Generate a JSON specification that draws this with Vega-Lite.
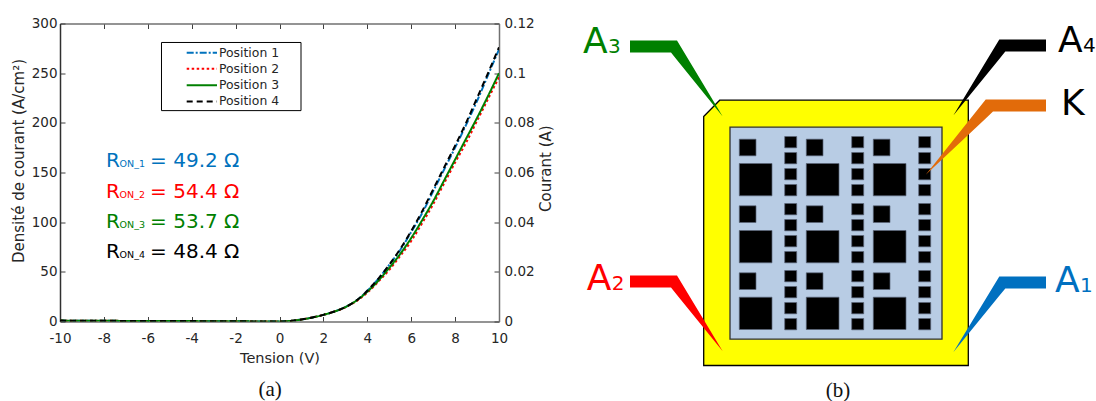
{
"$schema":"https://vega.github.io/schema/vega-lite/v6.json",
"background":"white",
"padding":{"left":11,"top":16.5,"right":0,"bottom":0},
"bounds":"flush",
"spacing":71,
"resolve":{"scale":{"color":"independent"}},
"config":{"view":{"stroke":null},"font":"DejaVu Sans","text":{"font":"DejaVu Sans"}},
"datasets":{
"curves":[
{"t":-10,"p":"Position 1","j":0.9},{"t":-8,"p":"Position 1","j":0.7},{"t":-6,"p":"Position 1","j":0.5},{"t":-4,"p":"Position 1","j":0.4},{"t":-2,"p":"Position 1","j":0.2},{"t":0,"p":"Position 1","j":0},{"t":0.5,"p":"Position 1","j":0.6},{"t":1,"p":"Position 1","j":2},{"t":1.5,"p":"Position 1","j":4},{"t":2,"p":"Position 1","j":6.7},{"t":2.5,"p":"Position 1","j":10},{"t":3,"p":"Position 1","j":14.5},{"t":3.5,"p":"Position 1","j":21},{"t":4,"p":"Position 1","j":31},{"t":4.5,"p":"Position 1","j":43},{"t":5,"p":"Position 1","j":57},{"t":5.5,"p":"Position 1","j":72},{"t":6,"p":"Position 1","j":90},{"t":6.5,"p":"Position 1","j":109},{"t":7,"p":"Position 1","j":131},{"t":7.5,"p":"Position 1","j":153},{"t":8,"p":"Position 1","j":175},{"t":8.5,"p":"Position 1","j":198},{"t":9,"p":"Position 1","j":222},{"t":9.5,"p":"Position 1","j":248},{"t":10,"p":"Position 1","j":274},
{"t":-10,"p":"Position 2","j":0.9},{"t":-8,"p":"Position 2","j":0.7},{"t":-6,"p":"Position 2","j":0.5},{"t":-4,"p":"Position 2","j":0.4},{"t":-2,"p":"Position 2","j":0.2},{"t":0,"p":"Position 2","j":0},{"t":0.5,"p":"Position 2","j":0.6},{"t":1,"p":"Position 2","j":2},{"t":1.5,"p":"Position 2","j":4},{"t":2,"p":"Position 2","j":6.7},{"t":2.5,"p":"Position 2","j":10},{"t":3,"p":"Position 2","j":14.3},{"t":3.5,"p":"Position 2","j":20.5},{"t":4,"p":"Position 2","j":29},{"t":4.5,"p":"Position 2","j":40},{"t":5,"p":"Position 2","j":52},{"t":5.5,"p":"Position 2","j":66},{"t":6,"p":"Position 2","j":81},{"t":6.5,"p":"Position 2","j":99},{"t":7,"p":"Position 2","j":118},{"t":7.5,"p":"Position 2","j":139},{"t":8,"p":"Position 2","j":160},{"t":8.5,"p":"Position 2","j":180},{"t":9,"p":"Position 2","j":202},{"t":9.5,"p":"Position 2","j":224},{"t":10,"p":"Position 2","j":246},
{"t":-10,"p":"Position 3","j":0.9},{"t":-8,"p":"Position 3","j":0.7},{"t":-6,"p":"Position 3","j":0.5},{"t":-4,"p":"Position 3","j":0.4},{"t":-2,"p":"Position 3","j":0.2},{"t":0,"p":"Position 3","j":0},{"t":0.5,"p":"Position 3","j":0.6},{"t":1,"p":"Position 3","j":2},{"t":1.5,"p":"Position 3","j":4},{"t":2,"p":"Position 3","j":6.7},{"t":2.5,"p":"Position 3","j":10},{"t":3,"p":"Position 3","j":14.5},{"t":3.5,"p":"Position 3","j":21},{"t":4,"p":"Position 3","j":30},{"t":4.5,"p":"Position 3","j":41},{"t":5,"p":"Position 3","j":54},{"t":5.5,"p":"Position 3","j":68},{"t":6,"p":"Position 3","j":84},{"t":6.5,"p":"Position 3","j":102},{"t":7,"p":"Position 3","j":121},{"t":7.5,"p":"Position 3","j":142},{"t":8,"p":"Position 3","j":163},{"t":8.5,"p":"Position 3","j":184},{"t":9,"p":"Position 3","j":205},{"t":9.5,"p":"Position 3","j":227},{"t":10,"p":"Position 3","j":250},
{"t":-10,"p":"Position 4","j":0.9},{"t":-8,"p":"Position 4","j":0.7},{"t":-6,"p":"Position 4","j":0.5},{"t":-4,"p":"Position 4","j":0.4},{"t":-2,"p":"Position 4","j":0.2},{"t":0,"p":"Position 4","j":0},{"t":0.5,"p":"Position 4","j":0.6},{"t":1,"p":"Position 4","j":2},{"t":1.5,"p":"Position 4","j":4},{"t":2,"p":"Position 4","j":6.7},{"t":2.5,"p":"Position 4","j":10},{"t":3,"p":"Position 4","j":14.5},{"t":3.5,"p":"Position 4","j":21},{"t":4,"p":"Position 4","j":31},{"t":4.5,"p":"Position 4","j":43},{"t":5,"p":"Position 4","j":57},{"t":5.5,"p":"Position 4","j":73},{"t":6,"p":"Position 4","j":91},{"t":6.5,"p":"Position 4","j":111},{"t":7,"p":"Position 4","j":133},{"t":7.5,"p":"Position 4","j":155},{"t":8,"p":"Position 4","j":177},{"t":8.5,"p":"Position 4","j":200},{"t":9,"p":"Position 4","j":225},{"t":9.5,"p":"Position 4","j":250},{"t":10,"p":"Position 4","j":276}
],
"key":[
{"t":-4.228,"j":270.5,"p":"Position 1"},{"t":-2.847,"j":270.5,"p":"Position 1"},
{"t":-4.228,"j":254.4,"p":"Position 2"},{"t":-2.847,"j":254.4,"p":"Position 2"},
{"t":-4.228,"j":237.9,"p":"Position 3"},{"t":-2.847,"j":237.9,"p":"Position 3"},
{"t":-4.228,"j":221.5,"p":"Position 4"},{"t":-2.847,"j":221.5,"p":"Position 4"}
],
"keylabels":[
{"t":-2.756,"j":270.5,"p":"Position 1"},{"t":-2.756,"j":254.4,"p":"Position 2"},{"t":-2.756,"j":237.9,"p":"Position 3"},{"t":-2.756,"j":221.5,"p":"Position 4"}
],
"ron":[
{"t":-7.9,"j":156,"p":"Position 1","r":"R","s":"ON_1","v":"= 49.2 Ω"},
{"t":-7.9,"j":124.8,"p":"Position 2","r":"R","s":"ON_2","v":"= 54.4 Ω"},
{"t":-7.9,"j":94.6,"p":"Position 3","r":"R","s":"ON_3","v":"= 53.7 Ω"},
{"t":-7.9,"j":64.4,"p":"Position 4","r":"R","s":"ON_4","v":"= 48.4 Ω"}
],
"leaders":[
{"term":"A3","u":-73.7,"top":325,"bot":313},{"term":"A3","u":-32.7,"top":325,"bot":313},{"term":"A3","u":-26.7,"top":325,"bot":305.6},{"term":"A3","u":19,"top":249,"bot":249},
{"term":"A2","u":-73.7,"top":90,"bot":78},{"term":"A2","u":-32.7,"top":90,"bot":78},{"term":"A2","u":-26.7,"top":90,"bot":70.6},{"term":"A2","u":19,"top":14.3,"bot":14.3},
{"term":"A4","u":249.6,"top":250,"bot":250},{"term":"A4","u":295.6,"top":326,"bot":306.6},{"term":"A4","u":301.6,"top":326,"bot":314},{"term":"A4","u":342.3,"top":326,"bot":314},
{"term":"A1","u":249.6,"top":13.3,"bot":13.3},{"term":"A1","u":295.6,"top":89,"bot":69.7},{"term":"A1","u":301.6,"top":89,"bot":77},{"term":"A1","u":342.3,"top":89,"bot":77},
{"term":"K","u":222,"top":190.7,"bot":190.7},{"term":"K","u":282,"top":266,"bot":247.1},{"term":"K","u":289.3,"top":266,"bot":254},{"term":"K","u":342.3,"top":266,"bot":254}
],
"pads":[
{"u":35.6,"u2":52.3,"w":226.3,"w2":209.7},{"u":102.6,"u2":119.3,"w":226.3,"w2":209.7},{"u":169.6,"u2":186.3,"w":226.3,"w2":209.7},
{"u":35.6,"u2":68.3,"w":202,"w2":169.7},{"u":102.6,"u2":135.3,"w":202,"w2":169.7},{"u":169.6,"u2":202.3,"w":202,"w2":169.7},
{"u":35.6,"u2":52.3,"w":159.7,"w2":143},{"u":102.6,"u2":119.3,"w":159.7,"w2":143},{"u":169.6,"u2":186.3,"w":159.7,"w2":143},
{"u":35.6,"u2":68.3,"w":135,"w2":102.7},{"u":102.6,"u2":135.3,"w":135,"w2":102.7},{"u":169.6,"u2":202.3,"w":135,"w2":102.7},
{"u":35.6,"u2":52.3,"w":92.7,"w2":76},{"u":102.6,"u2":119.3,"w":92.7,"w2":76},{"u":169.6,"u2":186.3,"w":92.7,"w2":76},
{"u":35.6,"u2":68.3,"w":68.3,"w2":36},{"u":102.6,"u2":135.3,"w":68.3,"w2":36},{"u":169.6,"u2":202.3,"w":68.3,"w2":36},
{"u":81,"u2":93,"w":229,"w2":217.7},{"u":81,"u2":93,"w":213,"w2":201.7},{"u":81,"u2":93,"w":197,"w2":185.7},{"u":81,"u2":93,"w":181,"w2":169.7},
{"u":81,"u2":93,"w":162,"w2":150.7},{"u":81,"u2":93,"w":146,"w2":134.7},{"u":81,"u2":93,"w":130,"w2":118.7},{"u":81,"u2":93,"w":114,"w2":102.7},
{"u":81,"u2":93,"w":95,"w2":83.7},{"u":81,"u2":93,"w":79,"w2":67.7},{"u":81,"u2":93,"w":63,"w2":51.7},{"u":81,"u2":93,"w":47,"w2":35.7},
{"u":148,"u2":160,"w":229,"w2":217.7},{"u":148,"u2":160,"w":213,"w2":201.7},{"u":148,"u2":160,"w":197,"w2":185.7},{"u":148,"u2":160,"w":181,"w2":169.7},
{"u":148,"u2":160,"w":162,"w2":150.7},{"u":148,"u2":160,"w":146,"w2":134.7},{"u":148,"u2":160,"w":130,"w2":118.7},{"u":148,"u2":160,"w":114,"w2":102.7},
{"u":148,"u2":160,"w":95,"w2":83.7},{"u":148,"u2":160,"w":79,"w2":67.7},{"u":148,"u2":160,"w":63,"w2":51.7},{"u":148,"u2":160,"w":47,"w2":35.7},
{"u":215,"u2":227,"w":229,"w2":217.7},{"u":215,"u2":227,"w":213,"w2":201.7},{"u":215,"u2":227,"w":197,"w2":185.7},{"u":215,"u2":227,"w":181,"w2":169.7},
{"u":215,"u2":227,"w":162,"w2":150.7},{"u":215,"u2":227,"w":146,"w2":134.7},{"u":215,"u2":227,"w":130,"w2":118.7},{"u":215,"u2":227,"w":114,"w2":102.7},
{"u":215,"u2":227,"w":95,"w2":83.7},{"u":215,"u2":227,"w":79,"w2":67.7},{"u":215,"u2":227,"w":63,"w2":51.7},{"u":215,"u2":227,"w":47,"w2":35.7}
],
"labels":[
{"term":"A3","main":"A","sub":"3","u":-120.7,"us":-95.7,"w":313},
{"term":"A2","main":"A","sub":"2","u":-117,"us":-92,"w":76},
{"term":"A4","main":"A","sub":"4","u":354.3,"us":379.3,"w":314},
{"term":"A1","main":"A","sub":"1","u":351.3,"us":376.3,"w":74},
{"term":"A4","main":"K","sub":"","u":357.3,"us":380,"w":250.5}
]
},
"hconcat":[
{
"width":439,"height":298,
"resolve":{"scale":{"y":"independent"},"axis":{"x":"independent"}},
"layer":[
{
"layer":[
{"data":{"values":[{"a":-5.376,"b":0.98,"c":280.9,"d":212.3}]},
 "mark":{"type":"rect","fill":"white","stroke":"black","strokeWidth":1},
 "encoding":{
  "x":{"field":"a","type":"quantitative","scale":{"domain":[-10,10],"nice":false},
   "axis":{"orient":"bottom","values":[-10,-8,-6,-4,-2,0,2,4,6,8,10],"labelExpr":"replace(datum.label,'−','-')","grid":false,"tickSize":-5,"tickColor":"#404040","domainColor":"#707070","domainWidth":1.5,"labelFontSize":13.5,"labelColor":"#262626","labelPadding":15,"labelFlush":false,"title":"Tension (V)","titleFontSize":14.5,"titleFontWeight":"normal","titleColor":"#262626","titlePadding":6}},
  "x2":{"field":"b"},
  "y":{"field":"c","type":"quantitative","scale":{"domain":[0,300],"nice":false},
   "axis":{"orient":"left","values":[0,50,100,150,200,250,300],"grid":false,"tickSize":-5,"tickColor":"#404040","domainColor":"#303030","domainWidth":1.5,"labelFontSize":13.5,"labelColor":"#262626","labelPadding":8,"title":"Densité de courant (A/cm²)","titleFontSize":15,"titleFontWeight":"normal","titleColor":"#262626","titleY":137,"titleX":-33.5}},
  "y2":{"field":"d"}
 }},
{"data":{"name":"curves"},
 "mark":{"type":"line","strokeWidth":2,"clip":true,"interpolate":"monotone"},
 "encoding":{
  "x":{"field":"t","type":"quantitative"},
  "y":{"field":"j","type":"quantitative"},
  "color":{"field":"p","type":"nominal","scale":{"domain":["Position 1","Position 2","Position 3","Position 4"],"range":["#0072BD","#FF0000","#008000","#000000"]},"legend":null},
  "strokeDash":{"field":"p","type":"nominal","scale":{"domain":["Position 1","Position 2","Position 3","Position 4"],"range":[[7,2,2,2],[2.5,2.5],[1,0],[6,4]]},"legend":null}
 }},
{"data":{"name":"key"},
 "mark":{"type":"line","strokeWidth":2},
 "encoding":{
  "x":{"field":"t","type":"quantitative"},
  "y":{"field":"j","type":"quantitative"},
  "color":{"field":"p","type":"nominal","legend":null},
  "strokeDash":{"field":"p","type":"nominal","legend":null}
 }},
{"data":{"name":"keylabels"},
 "mark":{"type":"text","align":"left","baseline":"middle","fontSize":12.4,"color":"#262626"},
 "encoding":{"x":{"field":"t","type":"quantitative"},"y":{"field":"j","type":"quantitative"},"text":{"field":"p"}}},
{"data":{"name":"ron"},
 "mark":{"type":"text","align":"left","baseline":"alphabetic","fontSize":20},
 "encoding":{"x":{"field":"t","type":"quantitative"},"y":{"field":"j","type":"quantitative"},"text":{"field":"r"},"color":{"field":"p","type":"nominal","legend":null}}},
{"data":{"name":"ron"},
 "mark":{"type":"text","align":"left","baseline":"alphabetic","fontSize":9.5,"dx":13.5},
 "encoding":{"x":{"field":"t","type":"quantitative"},"y":{"field":"j","type":"quantitative"},"text":{"field":"s"},"color":{"field":"p","type":"nominal","legend":null}}},
{"data":{"name":"ron"},
 "mark":{"type":"text","align":"left","baseline":"alphabetic","fontSize":20,"dx":44},
 "encoding":{"x":{"field":"t","type":"quantitative"},"y":{"field":"j","type":"quantitative"},"text":{"field":"v"},"color":{"field":"p","type":"nominal","legend":null}}},
{"data":{"values":[{"t":-0.43,"j":-75.5,"c":"(a)"}]},
 "mark":{"type":"text","font":"Liberation Serif","fontSize":21,"align":"center","baseline":"alphabetic","color":"#111111"},
 "encoding":{"x":{"field":"t","type":"quantitative"},"y":{"field":"j","type":"quantitative"},"text":{"field":"c"}}}
]},
{"data":{"values":[{"t":10,"i":0.1096},{"t":0,"i":0}]},
 "mark":{"type":"point","opacity":0},
 "encoding":{
  "x":{"field":"t","type":"quantitative",
   "axis":{"orient":"top","values":[-10,-8,-6,-4,-2,0,2,4,6,8,10],"grid":false,"labels":false,"tickSize":-5,"tickColor":"#404040","domainColor":"#707070","domainWidth":1.5,"title":null}},
  "y":{"field":"i","type":"quantitative","scale":{"domain":[0,0.12],"nice":false},
   "axis":{"orient":"right","values":[0,0.02,0.04,0.06,0.08,0.1,0.12],"format":".2~f","grid":false,"tickSize":-5,"tickColor":"#404040","domainColor":"#707070","domainWidth":1.5,"labelFontSize":13.5,"labelColor":"#262626","labelPadding":10,"title":"Courant (A)","titleFontSize":15,"titleFontWeight":"normal","titleColor":"#262626","titleAngle":270,"titleBaseline":"middle","titleY":144.7,"titleX":46}}
 }}
]
},
{
"width":526,"height":378,
"layer":[
{"data":{"values":[{"u":0,"top":249,"bot":0},{"u":16,"top":265.3,"bot":0},{"u":264.6,"top":265.3,"bot":0}]},
 "mark":{"type":"area","fill":"#FFFF00","stroke":"black","strokeWidth":1.3,"opacity":1,"clip":false},
 "encoding":{
  "x":{"field":"u","type":"quantitative","scale":{"domain":[-133.7,392.3],"nice":false},"axis":null},
  "y":{"field":"top","type":"quantitative","scale":{"domain":[-36,342],"nice":false},"axis":null},
  "y2":{"field":"bot"}
 }},
{"data":{"values":[{"u":26.3,"u2":238.3,"w":26.3,"w2":238.3}]},
 "mark":{"type":"rect","fill":"#B8CCE4","stroke":"#303030","strokeWidth":1.3},
 "encoding":{"x":{"field":"u","type":"quantitative"},"x2":{"field":"u2"},"y":{"field":"w","type":"quantitative"},"y2":{"field":"w2"}}},
{"data":{"name":"pads"},
 "mark":{"type":"rect","fill":"black","stroke":"#5A6478","strokeWidth":0.7},
 "encoding":{"x":{"field":"u","type":"quantitative"},"x2":{"field":"u2"},"y":{"field":"w","type":"quantitative"},"y2":{"field":"w2"}}},
{"data":{"name":"leaders"},
 "mark":{"type":"area","opacity":1},
 "encoding":{"x":{"field":"u","type":"quantitative"},"y":{"field":"top","type":"quantitative"},"y2":{"field":"bot"},
  "color":{"field":"term","type":"nominal","legend":null,"scale":{"domain":["A1","A2","A3","A4","K"],"range":["#0070C0","#FF0000","#008000","#000000","#E26B0A"]}}}},
{"data":{"name":"labels"},
 "mark":{"type":"text","align":"left","baseline":"alphabetic","fontSize":36},
 "encoding":{"x":{"field":"u","type":"quantitative"},"y":{"field":"w","type":"quantitative"},"text":{"field":"main"},"color":{"field":"term","type":"nominal","legend":null}}},
{"data":{"name":"labels"},
 "mark":{"type":"text","align":"left","baseline":"alphabetic","fontSize":20},
 "encoding":{"x":{"field":"us","type":"quantitative"},"y":{"field":"w","type":"quantitative"},"text":{"field":"sub"},"color":{"field":"term","type":"nominal","legend":null}}},
{"data":{"values":[{"u":134.3,"w":-31,"c":"(b)"}]},
 "mark":{"type":"text","font":"Liberation Serif","fontSize":21,"align":"center","baseline":"alphabetic","color":"#111111"},
 "encoding":{"x":{"field":"u","type":"quantitative"},"y":{"field":"w","type":"quantitative"},"text":{"field":"c"}}}
]
}
]
}
